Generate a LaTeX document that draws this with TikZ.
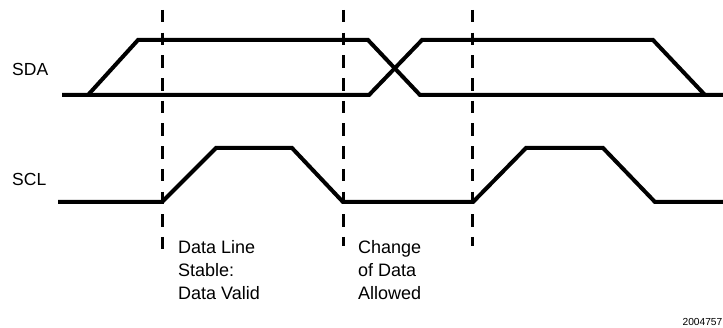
\documentclass[tikz,border=0pt]{standalone}
\usepackage{fontspec}
\setmainfont{Liberation Sans}
\begin{document}
\begin{tikzpicture}[x=1pt,y=-1pt,
  wave/.style={line width=4pt,line join=miter,line cap=butt},
  guide/.style={line width=3pt,dash pattern=on 12.5pt off 10.2pt},
  sig/.style={font=\fontsize{17.5}{20}\selectfont,anchor=west,inner sep=0pt},
  note/.style={font=\fontsize{18}{23}\selectfont,anchor=base west,align=left,inner sep=0pt}]
\useasboundingbox (0,0) rectangle (723,328);
% labels
\node[sig] (sda) at (12,69) {SDA};
\node[sig] (scl) at (12,179) {SCL};
% dashed guides
\draw[guide] (162,10) -- (162,250);
\draw[guide] (343,10) -- (343,246);
\draw[guide] (472,10) -- (472,246);
% SDA
\draw[wave] (62,95) -- (369,95) -- (422,40) -- (653,40) -- (705,95);
\draw[wave] (88,95) -- (138,40) -- (368,40) -- (420,95) -- (723,95);
% SCL
\draw[wave] (58,202) -- (162,202) -- (216,148) -- (292,148) -- (343,202) -- (473,202) -- (526,148) -- (603,148) -- (655,202) -- (723,202);
% notes
\node[note] (n1) at (178,300) {Data Line\\Stable:\\Data Valid};
\node[note] (n2) at (358,300) {Change\\of Data\\Allowed};
\node[font=\fontsize{10.2}{12}\selectfont,anchor=base east,inner sep=0pt] (id) at (722.5,326) {2004757};
\end{tikzpicture}
\end{document}
